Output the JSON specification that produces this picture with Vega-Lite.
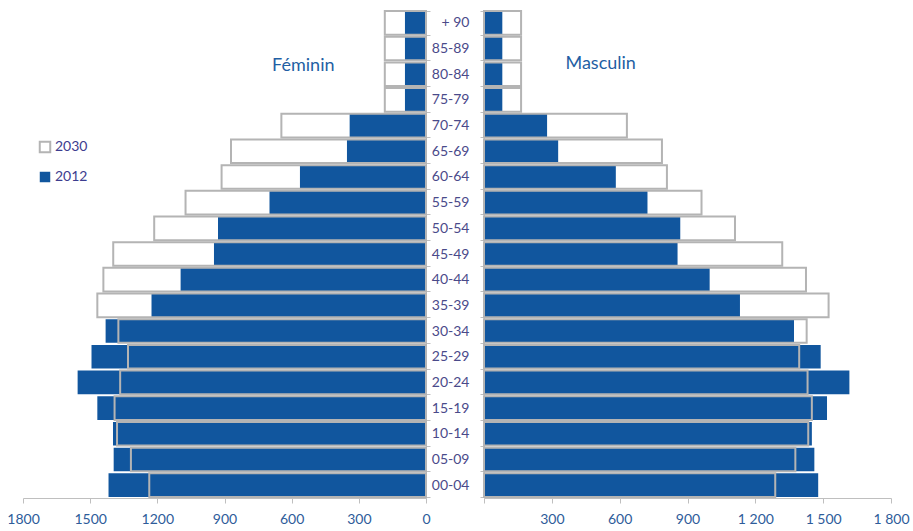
{
  "$schema": "https://vega.github.io/schema/vega-lite/v6.json",
  "background": "white",
  "padding": {"left": 6, "top": 3, "right": 5, "bottom": 5},
  "spacing": 58,
  "bounds": "flush",
  "config": {
    "view": {"stroke": null},
    "font": "Lato",
    "axis": {
      "grid": false,
      "domainColor": "#bfbfbf",
      "tickColor": "#bfbfbf",
      "labelFont": "Lato",
      "labelFontSize": 14
    },
    "axisX": {
      "labelColor": "#2e5c9a",
      "tickSize": 5,
      "labelPadding": 9,
      "labelFlush": false,
      "labelOverlap": false
    },
    "axisY": {
      "labelColor": "#4a4a8a",
      "tickBand": "extent",
      "tickSize": 4
    }
  },
  "datasets": {
    "pyramide": [
      {"sexe": "Féminin", "age": "+ 90", "annee": "2012", "valeur": 94},
      {"sexe": "Féminin", "age": "85-89", "annee": "2012", "valeur": 94},
      {"sexe": "Féminin", "age": "80-84", "annee": "2012", "valeur": 94},
      {"sexe": "Féminin", "age": "75-79", "annee": "2012", "valeur": 94},
      {"sexe": "Féminin", "age": "70-74", "annee": "2012", "valeur": 341},
      {"sexe": "Féminin", "age": "65-69", "annee": "2012", "valeur": 353},
      {"sexe": "Féminin", "age": "60-64", "annee": "2012", "valeur": 563},
      {"sexe": "Féminin", "age": "55-59", "annee": "2012", "valeur": 699},
      {"sexe": "Féminin", "age": "50-54", "annee": "2012", "valeur": 929},
      {"sexe": "Féminin", "age": "45-49", "annee": "2012", "valeur": 947},
      {"sexe": "Féminin", "age": "40-44", "annee": "2012", "valeur": 1096},
      {"sexe": "Féminin", "age": "35-39", "annee": "2012", "valeur": 1226},
      {"sexe": "Féminin", "age": "30-34", "annee": "2012", "valeur": 1431},
      {"sexe": "Féminin", "age": "25-29", "annee": "2012", "valeur": 1494},
      {"sexe": "Féminin", "age": "20-24", "annee": "2012", "valeur": 1556},
      {"sexe": "Féminin", "age": "15-19", "annee": "2012", "valeur": 1468},
      {"sexe": "Féminin", "age": "10-14", "annee": "2012", "valeur": 1398},
      {"sexe": "Féminin", "age": "05-09", "annee": "2012", "valeur": 1395},
      {"sexe": "Féminin", "age": "00-04", "annee": "2012", "valeur": 1418},
      {"sexe": "Féminin", "age": "+ 90", "annee": "2030", "valeur": 184},
      {"sexe": "Féminin", "age": "85-89", "annee": "2030", "valeur": 184},
      {"sexe": "Féminin", "age": "80-84", "annee": "2030", "valeur": 184},
      {"sexe": "Féminin", "age": "75-79", "annee": "2030", "valeur": 184},
      {"sexe": "Féminin", "age": "70-74", "annee": "2030", "valeur": 646},
      {"sexe": "Féminin", "age": "65-69", "annee": "2030", "valeur": 871},
      {"sexe": "Féminin", "age": "60-64", "annee": "2030", "valeur": 913},
      {"sexe": "Féminin", "age": "55-59", "annee": "2030", "valeur": 1074},
      {"sexe": "Féminin", "age": "50-54", "annee": "2030", "valeur": 1214},
      {"sexe": "Féminin", "age": "45-49", "annee": "2030", "valeur": 1397},
      {"sexe": "Féminin", "age": "40-44", "annee": "2030", "valeur": 1441},
      {"sexe": "Féminin", "age": "35-39", "annee": "2030", "valeur": 1468},
      {"sexe": "Féminin", "age": "30-34", "annee": "2030", "valeur": 1374},
      {"sexe": "Féminin", "age": "25-29", "annee": "2030", "valeur": 1331},
      {"sexe": "Féminin", "age": "20-24", "annee": "2030", "valeur": 1366},
      {"sexe": "Féminin", "age": "15-19", "annee": "2030", "valeur": 1391},
      {"sexe": "Féminin", "age": "10-14", "annee": "2030", "valeur": 1380},
      {"sexe": "Féminin", "age": "05-09", "annee": "2030", "valeur": 1318},
      {"sexe": "Féminin", "age": "00-04", "annee": "2030", "valeur": 1236},
      {"sexe": "Masculin", "age": "+ 90", "annee": "2012", "valeur": 81},
      {"sexe": "Masculin", "age": "85-89", "annee": "2012", "valeur": 81},
      {"sexe": "Masculin", "age": "80-84", "annee": "2012", "valeur": 81},
      {"sexe": "Masculin", "age": "75-79", "annee": "2012", "valeur": 81},
      {"sexe": "Masculin", "age": "70-74", "annee": "2012", "valeur": 279},
      {"sexe": "Masculin", "age": "65-69", "annee": "2012", "valeur": 328},
      {"sexe": "Masculin", "age": "60-64", "annee": "2012", "valeur": 583},
      {"sexe": "Masculin", "age": "55-59", "annee": "2012", "valeur": 723},
      {"sexe": "Masculin", "age": "50-54", "annee": "2012", "valeur": 868},
      {"sexe": "Masculin", "age": "45-49", "annee": "2012", "valeur": 856},
      {"sexe": "Masculin", "age": "40-44", "annee": "2012", "valeur": 998},
      {"sexe": "Masculin", "age": "35-39", "annee": "2012", "valeur": 1132},
      {"sexe": "Masculin", "age": "30-34", "annee": "2012", "valeur": 1371},
      {"sexe": "Masculin", "age": "25-29", "annee": "2012", "valeur": 1489},
      {"sexe": "Masculin", "age": "20-24", "annee": "2012", "valeur": 1616},
      {"sexe": "Masculin", "age": "15-19", "annee": "2012", "valeur": 1517},
      {"sexe": "Masculin", "age": "10-14", "annee": "2012", "valeur": 1450},
      {"sexe": "Masculin", "age": "05-09", "annee": "2012", "valeur": 1461},
      {"sexe": "Masculin", "age": "00-04", "annee": "2012", "valeur": 1478},
      {"sexe": "Masculin", "age": "+ 90", "annee": "2030", "valeur": 164},
      {"sexe": "Masculin", "age": "85-89", "annee": "2030", "valeur": 164},
      {"sexe": "Masculin", "age": "80-84", "annee": "2030", "valeur": 164},
      {"sexe": "Masculin", "age": "75-79", "annee": "2030", "valeur": 164},
      {"sexe": "Masculin", "age": "70-74", "annee": "2030", "valeur": 632},
      {"sexe": "Masculin", "age": "65-69", "annee": "2030", "valeur": 787},
      {"sexe": "Masculin", "age": "60-64", "annee": "2030", "valeur": 809},
      {"sexe": "Masculin", "age": "55-59", "annee": "2030", "valeur": 962},
      {"sexe": "Masculin", "age": "50-54", "annee": "2030", "valeur": 1110},
      {"sexe": "Masculin", "age": "45-49", "annee": "2030", "valeur": 1319},
      {"sexe": "Masculin", "age": "40-44", "annee": "2030", "valeur": 1424},
      {"sexe": "Masculin", "age": "35-39", "annee": "2030", "valeur": 1524},
      {"sexe": "Masculin", "age": "30-34", "annee": "2030", "valeur": 1427},
      {"sexe": "Masculin", "age": "25-29", "annee": "2030", "valeur": 1394},
      {"sexe": "Masculin", "age": "20-24", "annee": "2030", "valeur": 1431},
      {"sexe": "Masculin", "age": "15-19", "annee": "2030", "valeur": 1450},
      {"sexe": "Masculin", "age": "10-14", "annee": "2030", "valeur": 1434},
      {"sexe": "Masculin", "age": "05-09", "annee": "2030", "valeur": 1377},
      {"sexe": "Masculin", "age": "00-04", "annee": "2030", "valeur": 1288}
    ]
  },
  "hconcat": [
    {
      "width": 403,
      "height": 488,
      "layer": [
        {
          "data": {"name": "pyramide"},
          "transform": [{"filter": "datum.sexe === 'Féminin'"}],
          "mark": {"type": "bar"},
          "encoding": {
            "y": {
              "field": "age",
              "type": "nominal",
              "scale": {
                "domain": ["+ 90", "85-89", "80-84", "75-79", "70-74", "65-69", "60-64", "55-59", "50-54", "45-49", "40-44", "35-39", "30-34", "25-29", "20-24", "15-19", "10-14", "05-09", "00-04"],
                "paddingInner": 0.08,
                "paddingOuter": 0.04
              },
              "axis": {"orient": "right", "labels": false, "title": null}
            },
            "x": {
              "field": "valeur",
              "type": "quantitative",
              "stack": null,
              "scale": {"domain": [0, 1800], "reverse": true, "nice": false},
              "axis": {"values": [0, 300, 600, 900, 1200, 1500, 1800], "format": "d", "title": null}
            },
            "fill": {
              "field": "annee",
              "type": "nominal",
              "scale": {"domain": ["2030", "2012"], "range": ["transparent", "#11569e"]},
              "legend": {
                "title": null,
                "orient": "none",
                "legendX": 15,
                "legendY": 130,
                "symbolType": "square",
                "symbolSize": 110,
                "labelFontSize": 14,
                "labelColor": "#3d3d8f",
                "rowPadding": 13,
                "labelOffset": 3,
                "padding": 0
              }
            },
            "stroke": {
              "field": "annee",
              "type": "nominal",
              "scale": {"domain": ["2030", "2012"], "range": ["#b4b4b4", "#11569e"]},
              "legend": {"title": null}
            },
            "strokeWidth": {
              "field": "annee",
              "type": "ordinal",
              "scale": {"domain": ["2030", "2012"], "range": [2, 0]},
              "legend": {"title": null}
            },
            "order": {"field": "annee", "sort": "ascending"}
          }
        },
        {
          "data": {"values": [{"titre": "Féminin"}]},
          "mark": {"type": "text", "fontSize": 18, "color": "#1f5fa4", "font": "Lato", "baseline": "middle", "dy": -8},
          "encoding": {
            "x": {"datum": 548},
            "y": {"datum": "80-84"},
            "text": {"field": "titre", "type": "nominal"}
          }
        }
      ]
    },
    {
      "width": 407,
      "height": 488,
      "layer": [
        {
          "data": {"name": "pyramide"},
          "transform": [{"filter": "datum.sexe === 'Masculin'"}],
          "mark": {"type": "bar"},
          "encoding": {
            "y": {
              "field": "age",
              "type": "nominal",
              "scale": {
                "domain": ["+ 90", "85-89", "80-84", "75-79", "70-74", "65-69", "60-64", "55-59", "50-54", "45-49", "40-44", "35-39", "30-34", "25-29", "20-24", "15-19", "10-14", "05-09", "00-04"],
                "paddingInner": 0.08,
                "paddingOuter": 0.04
              },
              "axis": {"orient": "left", "title": null, "labelPadding": 11}
            },
            "x": {
              "field": "valeur",
              "type": "quantitative",
              "stack": null,
              "scale": {"domain": [0, 1800], "nice": false},
              "axis": {
                "values": [0, 300, 600, 900, 1200, 1500, 1800],
                "labelExpr": "datum.value === 0 ? '' : replace(format(datum.value, ','), ',', ' ')",
                "title": null
              }
            },
            "fill": {
              "field": "annee",
              "type": "nominal",
              "scale": {"domain": ["2030", "2012"], "range": ["transparent", "#11569e"]},
              "legend": null
            },
            "stroke": {
              "field": "annee",
              "type": "nominal",
              "scale": {"domain": ["2030", "2012"], "range": ["#b4b4b4", "#11569e"]},
              "legend": null
            },
            "strokeWidth": {
              "field": "annee",
              "type": "ordinal",
              "scale": {"domain": ["2030", "2012"], "range": [2, 0]},
              "legend": null
            },
            "order": {"field": "annee", "sort": "ascending"}
          }
        },
        {
          "data": {"values": [{"titre": "Masculin"}]},
          "mark": {"type": "text", "fontSize": 18, "color": "#1f5fa4", "font": "Lato", "baseline": "middle", "dy": -10},
          "encoding": {
            "x": {"datum": 516},
            "y": {"datum": "80-84"},
            "text": {"field": "titre", "type": "nominal"}
          }
        }
      ]
    }
  ],
  "resolve": {
    "scale": {"x": "independent", "fill": "independent", "stroke": "independent", "strokeWidth": "independent"},
    "legend": {"fill": "independent", "stroke": "independent", "strokeWidth": "independent"}
  }
}
